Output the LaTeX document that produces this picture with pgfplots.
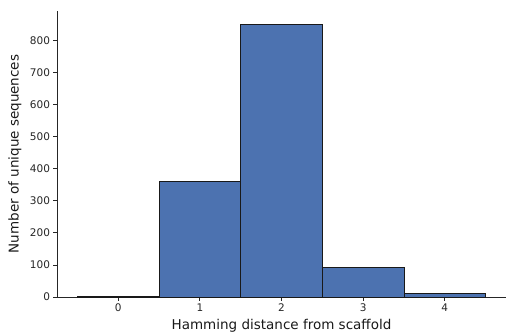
\documentclass[border=0pt]{standalone}
\usepackage{fontspec}
\setmainfont{DejaVu Sans}
\usepackage{pgfplots}
\pgfplotsset{compat=1.18}
\definecolor{barblue}{HTML}{4C72B0}
\begin{document}
\begin{tikzpicture}
\begin{axis}[
  scale only axis,
  width=449pt, height=286pt,
  xmin=-0.75, xmax=4.75,
  ymin=0, ymax=891,
  axis lines*=left,
  axis line style={line width=0.8pt, black!85},
  tick align=outside,
  major tick length=3.5pt,
  tick style={line width=0.8pt, black!85},
  xtick={0,1,2,3,4},
  ytick={0,100,200,300,400,500,600,700,800},
  /pgf/number format/assume math mode=true,
  ticklabel style={font=\fontsize{10.5}{12}\selectfont, text=black!85},
  label style={font=\fontsize{13.5}{16}\selectfont, text=black!90},
  xlabel={Hamming distance from scaffold},
  ylabel={Number of unique sequences},
  xlabel style={at={(axis description cs:0.5,-0.1014)}, anchor=center},
  ylabel style={at={(axis description cs:-0.0935,0.5)}, anchor=center},
  clip=false,
]
\addplot[ybar, bar width=1, fill=barblue, draw=black!90, line width=0.9pt]
  coordinates {(0,2) (1,359) (2,849) (3,91) (4,10)};
\end{axis}
\pgfresetboundingbox
\path (-57pt,-36pt) rectangle (450pt,297pt);
\end{tikzpicture}
\end{document}
